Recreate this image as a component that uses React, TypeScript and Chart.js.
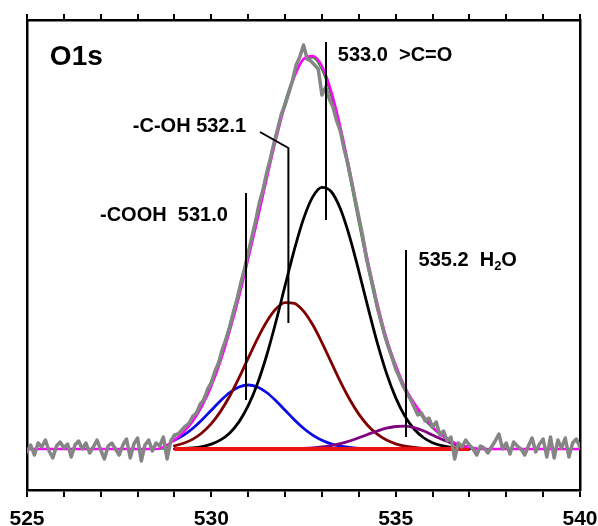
import React, { useEffect, useRef } from "react";
import { Chart, registerables } from "chart.js";

Chart.register(...registerables);

// ---------- axis ----------
const X_MIN = 525;
const X_MAX = 540;
const Y_MIN = -41;
const Y_MAX = 429;
const xTickLabels = ["525", "530", "535", "540"];

// ---------- fitted components (binding energy grid, eV) ----------
const fitEnergy = [
  529, 529.25, 529.5, 529.75, 530, 530.25, 530.5, 530.75, 531, 531.25, 531.5,
  531.75, 532, 532.25, 532.5, 532.75, 533, 533.25, 533.5, 533.75, 534, 534.25,
  534.5, 534.75, 535, 535.25, 535.5, 535.75, 536, 536.25, 536.5, 536.75, 537,
];
const peakCOOH = [
  8.7, 13.9, 20.8, 29.3, 38.8, 48.3, 56.5, 62.0, 64, 62.0, 56.5, 48.3, 38.8,
  29.3, 20.8, 13.9, 8.7, 5.1, 2.8, 1.5, 0.7, 0.3, 0.1, 0, 0, 0, 0, 0, 0, 0, 0, 0, 0,
];
const peakCOH = [
  3.2, 5.8, 9.9, 16.3, 25.3, 37.6, 53.0, 71.1, 90.8, 110.2, 127.3, 140.0, 146.4,
  145.7, 137.9, 124.2, 106.4, 86.8, 67.3, 49.7, 34.9, 23.3, 14.8, 8.9, 5.2, 2.8,
  1.5, 0.7, 0.3, 0.1, 0, 0, 0,
];
const peakCO = [
  0.2, 0.5, 1.2, 2.5, 4.9, 9.1, 16.1, 27.1, 43.3, 65.3, 93.5, 127.0, 163.3,
  199.1, 230.1, 252.1, 261.7, 257.5, 240.2, 212.4, 178.0, 141.3, 106.4, 75.9,
  51.4, 32.9, 20.0, 11.5, 6.3, 3.3, 1.6, 0.7, 0.3,
];
const peakH2O = [
  0, 0, 0, 0, 0, 0, 0, 0, 0, 0, 0, 0, 0.1, 0.3, 0.6, 1.1, 2.0, 3.4, 5.4, 8.0,
  11.2, 14.7, 18.0, 20.8, 22.5, 22.9, 21.4, 18.2, 13.9, 9.7, 6.1, 3.5, 1.8,
];
const baselineEnergy = [529, 537];
const baselineValues = [0, 0];

// ---------- measured spectrum (525.0 .. 540.0 eV, 0.1 eV step) ----------
const measuredStart = 525;
const measuredStep = 0.1;
const measured = [
  -3, 4, -6, 6, 2, 9, -2, -9, 3, 7, 1, 5, -8, 4, 8, 0, 6, -4, 2, 9, -1, -10, 3,
  6, 0, -6, 4, 10, -9, 5, 11, -12, 4, 9, -2, 6, 3, 12, -10, 8, 14,
  15, 19, 23, 26, 33, 36, 45, 49, 60, 66,
  78, 86, 100, 110, 122, 137, 150, 166, 180, 196,
  212, 228, 246, 259, 276, 290, 306, 320, 335, 344,
  356, 368, 384, 392, 404, 390, 388, 384, 380, 354,
  362, 350, 342, 328, 318, 300, 286, 268, 250, 232,
  214, 192, 176, 160, 142, 128, 114, 102, 92, 80,
  72, 63, 56, 50, 42, 34, 36, 28, 31, 22,
  27, 14, 18, 8, 12, -10, 6, 2, 9, 4,
  0, -6, 3, 1, -4, 2, 8, 15, 0, 6,
  -5, 7, 3, 0, -6, 3, 11, -3, 5, 10,
  -8, 12, -9, 9, 1, 11, -8, 6, 10, 2,
];

// ---------- smoothed spectrum ----------
const smoothEnergy = [
  525, 528.5, 528.75, 529, 529.25, 529.5, 529.75, 530, 530.25, 530.5, 530.75,
  531, 531.25, 531.5, 531.75, 532, 532.25, 532.5, 532.75, 533, 533.25, 533.5,
  533.75, 534, 534.25, 534.5, 534.75, 535, 535.25, 535.5, 535.75, 536, 536.25,
  536.5, 536.75, 537, 537.25, 537.5, 540,
];
const smoothValues = [
  0, 0, 3, 9, 17, 28, 43, 63, 88, 118, 152, 190, 229, 270, 309, 344, 372, 390,
  393, 383, 358, 322, 279, 232, 187, 146, 111, 84, 62, 46, 33, 22, 14, 8, 4, 2,
  0, 0, 0,
];

// ---------- annotations (data coordinates) ----------
const titleText = "O1s";
const titleAt = { x: 525.62, y: 392 };
const peakLabels = [
  { parts: [{ t: "-COOH  531.0" }], x: 526.98, y: 234 },
  { parts: [{ t: "-C-OH 532.1" }], x: 527.87, y: 323 },
  { parts: [{ t: "533.0  >C=O" }], x: 533.43, y: 394 },
  { parts: [{ t: "535.2  H" }, { t: "2", sub: true }, { t: "O" }], x: 535.62, y: 189 },
];
const leaderLines = [
  [[530.94, 256], [530.94, 49]],
  [[531.32, 317], [532.09, 301], [532.09, 126]],
  [[533.11, 407], [533.11, 229]],
  [[535.28, 199], [535.28, 12]],
];

const FONT = "Arial, 'Liberation Sans', sans-serif";

const toXY = (xs: number[], ys: number[]) => xs.map((x, i) => ({ x, y: ys[i] }));

const annotationPlugin = {
  id: "peakAnnotations",
  afterDatasetsDraw(chart: any) {
    const { ctx } = chart;
    const xs = chart.scales.x;
    const ys = chart.scales.y;
    ctx.save();
    ctx.strokeStyle = "#000";
    ctx.lineWidth = 2;
    leaderLines.forEach((ln) => {
      ctx.beginPath();
      ln.forEach(([ex, ev], i) => {
        const px = xs.getPixelForValue(ex);
        const py = ys.getPixelForValue(ev);
        if (i === 0) ctx.moveTo(px, py);
        else ctx.lineTo(px, py);
      });
      ctx.stroke();
    });
    ctx.fillStyle = "#000";
    ctx.textBaseline = "middle";
    ctx.textAlign = "left";
    ctx.font = `bold 28px ${FONT}`;
    ctx.fillText(titleText, xs.getPixelForValue(titleAt.x), ys.getPixelForValue(titleAt.y));
    peakLabels.forEach((lb) => {
      let px = xs.getPixelForValue(lb.x);
      const py = ys.getPixelForValue(lb.y);
      lb.parts.forEach((p: any) => {
        ctx.font = p.sub ? `bold 13px ${FONT}` : `bold 20px ${FONT}`;
        ctx.fillText(p.t, px, p.sub ? py + 6 : py);
        px += ctx.measureText(p.t).width;
      });
    });
    ctx.restore();
  },
};

export default function App() {
  const ref = useRef<HTMLCanvasElement | null>(null);

  useEffect(() => {
    document.body.style.margin = "0";
    if (!ref.current) return;

    const measuredPts = measured.map((v, i) => ({
      x: +(measuredStart + i * measuredStep).toFixed(2),
      y: v,
    }));
    const envelope = fitEnergy.map((e, i) => ({
      x: e,
      y: peakCOOH[i] + peakCOH[i] + peakCO[i] + peakH2O[i],
    }));
    const envelopeFull = [
      { x: X_MIN, y: 0 },
      { x: 528.75, y: 0 },
      ...envelope,
      { x: 537.25, y: 0 },
      { x: X_MAX, y: 0 },
    ];

    const line = (label: string, data: any[], color: string, width: number, smooth = true) => ({
      label,
      data,
      borderColor: color,
      backgroundColor: color,
      borderWidth: width,
      borderJoinStyle: "round",
      borderCapStyle: "round",
      pointRadius: 0,
      fill: false,
      cubicInterpolationMode: smooth ? "monotone" : "default",
      tension: smooth ? 0.4 : 0,
    });

    const chart = new Chart(ref.current, {
      type: "line",
      data: {
        datasets: [
          line("measured", measuredPts, "#858585", 3.5, false),
          line("smoothed", toXY(smoothEnergy, smoothValues), "#ff00ff", 2.5),
          line("envelope", envelopeFull, "#1a8a1a", 1.5),
          { ...line("baseline", toXY(baselineEnergy, baselineValues), "#ee1111", 4, false), borderCapStyle: "butt" },
          line("H2O", toXY(fitEnergy, peakH2O), "#800080", 2.8),
          line(">C=O", toXY(fitEnergy, peakCO), "#000000", 2.8),
          line("-C-OH", toXY(fitEnergy, peakCOH), "#800000", 2.8),
          line("-COOH", toXY(fitEnergy, peakCOOH), "#0a0ae6", 2.8),
        ] as any,
      },
      options: {
        responsive: false,
        animation: false,
        events: [],
        layout: { padding: 0 },
        plugins: { legend: { display: false }, tooltip: { enabled: false }, title: { display: false } },
        scales: {
          x: {
            type: "linear",
            position: "bottom",
            min: X_MIN,
            max: X_MAX,
            afterFit: (s: any) => {
              s.height = 36;
              s.paddingLeft = 0;
              s.paddingRight = 0;
            },
            border: { display: true, color: "#000", width: 2.5 },
            grid: { drawOnChartArea: false, drawTicks: true, tickLength: 7, color: "#000", lineWidth: 2 },
            ticks: {
              stepSize: 1,
              autoSkip: false,
              maxRotation: 0,
              padding: 10,
              color: "#000",
              font: { family: FONT, size: 21, weight: "bold" },
              callback: (v: any) => {
                const s = String(v);
                return xTickLabels.includes(s) ? s : "";
              },
            },
          },
          x2: {
            type: "linear",
            position: "top",
            min: X_MIN,
            max: X_MAX,
            afterFit: (s: any) => {
              s.height = 20;
              s.paddingLeft = 0;
              s.paddingRight = 0;
            },
            border: { display: true, color: "#000", width: 2.5 },
            grid: { drawOnChartArea: false, drawTicks: true, tickLength: 6, color: "#000", lineWidth: 2 },
            ticks: { stepSize: 1, autoSkip: false, display: false },
          },
          y: {
            type: "linear",
            position: "left",
            min: Y_MIN,
            max: Y_MAX,
            afterFit: (s: any) => {
              s.width = 27;
            },
            border: { display: true, color: "#000", width: 2.5 },
            grid: { display: false, drawTicks: false },
            ticks: { display: false },
          },
          y2: {
            type: "linear",
            position: "right",
            min: Y_MIN,
            max: Y_MAX,
            afterFit: (s: any) => {
              s.width = 18;
            },
            border: { display: true, color: "#000", width: 2.5 },
            grid: { display: false, drawTicks: false },
            ticks: { display: false },
          },
        },
      } as any,
      plugins: [annotationPlugin],
    });
    return () => chart.destroy();
  }, []);

  return (
    <div style={{ width: 598, height: 526, background: "#fff" }}>
      <canvas ref={ref} width={598} height={526} style={{ width: 598, height: 526, display: "block" }} />
    </div>
  );
}
